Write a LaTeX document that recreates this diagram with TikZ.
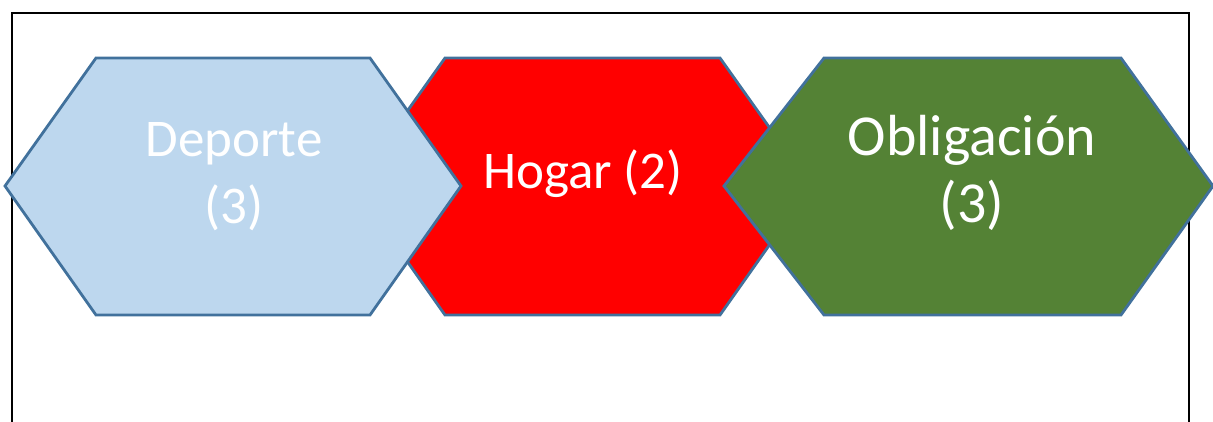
\documentclass[tikz,border=0pt]{standalone}
\usepackage{fontspec}
\setmainfont{Carlito}
\definecolor{edgeblue}{HTML}{41719C}
\definecolor{paleblue}{HTML}{BDD7EE}
\definecolor{leafgreen}{HTML}{548235}
\begin{document}
\begin{tikzpicture}[x=1pt,y=-1pt,
  hexbox/.style={draw=edgeblue,line width=2.8pt,line join=miter},
  label/.style={text=white,anchor=base,inner sep=0pt,font=\fontsize{53}{64}\selectfont},
  biglabel/.style={label,font=\fontsize{58}{70}\selectfont}]
\useasboundingbox (0,0) rectangle (1213,421);
% frame, open at the bottom
\draw[line width=2.6pt] (12,425) -- (12,13) -- (1189,13) -- (1189,425);
% middle hexagon sits underneath its neighbours
\draw[hexbox,fill=red] (354,186) -- (445,58) -- (720,58) -- (811,186) -- (720,315) -- (445,315) -- cycle;
\draw[hexbox,fill=paleblue] (5,186) -- (96,58) -- (370,58) -- (461,186) -- (370,315) -- (96,315) -- cycle;
\draw[hexbox,fill=leafgreen] (724,186) -- (824,58) -- (1121,58) -- (1213,186) -- (1121,315) -- (824,315) -- cycle;
% labels
\node[label] (dep1) at (234,156) {Deporte};
\node[label] (dep2) at (234,223) {(3)};
\node[label] (hog) at (583,188) {Hogar (2)};
\node[biglabel] (obl1) at (972,155) {Obligación};
\node[biglabel] (obl2) at (972,222) {(3)};
\end{tikzpicture}
\end{document}
